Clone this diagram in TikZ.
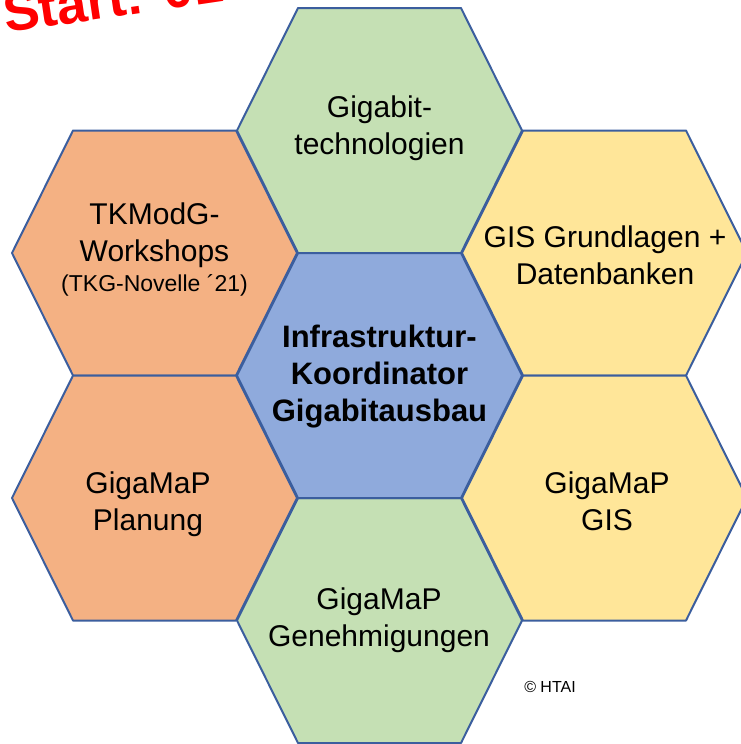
\documentclass[tikz,border=0pt]{standalone}
\usepackage{fontspec}
\setmainfont{Liberation Sans}
\usepackage{tikz}
\definecolor{hexline}{RGB}{59,94,158}
\definecolor{hexgreen}{RGB}{197,224,180}
\definecolor{hexorange}{RGB}{244,177,131}
\definecolor{hexyellow}{RGB}{255,230,153}
\definecolor{hexblue}{RGB}{143,170,220}

\begin{document}
\begin{tikzpicture}
    [
        x=1pt, y=-1pt,
        hex style/.style={draw=hexline, line width=2pt, line join=round},
        cell text/.style={align=center, inner sep=0pt, font=\fontsize{30}{37}\selectfont}
    ]
    \useasboundingbox (0,0) rectangle (741,744);
    \clip (0,0) rectangle (741,744);
    % honeycomb, one cell per centre
    \foreach \cx/\cy/\col in {379.5/130.5/hexgreen, 154.5/253/hexorange, 604.5/253/hexyellow,
                              154.5/498/hexorange, 604.5/498/hexyellow, 379.5/620.5/hexgreen,
                              379.5/375.5/hexblue}
        \draw[hex style, fill=\col] (\cx-142.5,\cy) -- ++(61,-122.5) -- ++(163,0)
            -- ++(61,122.5) -- ++(-61,122.5) -- ++(-163,0) -- cycle;
    \node[cell text] (gigabit) at (379.5,128.5) {Gigabit-\\technologien};
    \node[cell text] (tkmodg) at (154.5,250) {TKModG-\\Workshops\\[-7pt]{\fontsize{23}{30}\selectfont (TKG-Novelle ´21)}};
    \node[cell text] (gisbasis) at (605,255) {GIS Grundlagen +\\Datenbanken};
    \node[cell text, font=\fontsize{31}{37}\selectfont\bfseries] (koordinator) at (379.5,376.5) {Infrastruktur-\\Koordinator\\Gigabitausbau};
    \node[cell text] (planung) at (148,504) {GigaMaP\\Planung};
    \node[cell text] (gigagis) at (607,501.5) {GigaMaP\\GIS};
    \node[cell text] (genehm) at (379,620.5) {GigaMaP\\Genehmigungen};
    \node[font=\fontsize{16}{19}\selectfont, inner sep=0pt] (copyright) at (550,687) {© HTAI};
    \node[font=\fontsize{54}{60}\selectfont\bfseries, text=red, rotate=8.4, anchor=base west, inner sep=0pt] (start) at (6,33) {Start: 01.07.2021};
\end{tikzpicture}
\end{document}
